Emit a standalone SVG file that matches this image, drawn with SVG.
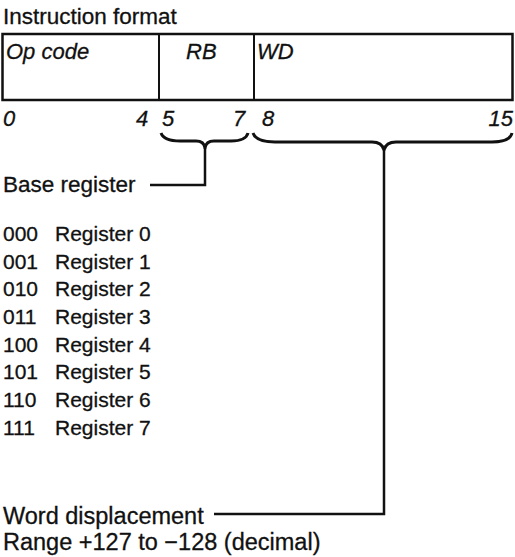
<svg xmlns="http://www.w3.org/2000/svg" width="515" height="557" viewBox="0 0 515 557">
<style>
text{font-family:"Liberation Sans",Arial,Helvetica,sans-serif;font-size:22px;fill:#111;stroke:#111;stroke-width:0.3}
.it{font-style:italic}
.rg{font-size:21px}
.big{font-size:23.5px}
.ln{fill:none;stroke:#111;stroke-width:2.5}
.br{fill:none;stroke:#111;stroke-width:3;stroke-linejoin:round}
</style>
<rect width="515" height="557" fill="#fff"/>
<text x="3" y="24" style="font-size:22.5px">Instruction format</text>
<g id="format">
<rect x="2.5" y="34" width="510" height="66" fill="none" stroke="#111" stroke-width="2.5"/>
<line x1="159" y1="34" x2="159" y2="100" stroke="#111" stroke-width="2"/>
<line x1="254" y1="34" x2="254" y2="100" stroke="#111" stroke-width="2"/>
<text class="it" x="6" y="59">Op code</text>
<text class="it" x="186" y="59">RB</text>
<text class="it" x="257" y="59">WD</text>
</g>
<g id="bits">
<text class="it" x="3" y="126">0</text>
<text class="it" x="136" y="126">4</text>
<text class="it" x="162" y="126">5</text>
<text class="it" x="233" y="126">7</text>
<text class="it" x="262" y="126">8</text>
<text class="it" x="513" y="126" text-anchor="end">15</text>
</g>
<g id="connectors">
<path class="br" d="M161,133 Q164,141 180,141 L196,141 Q204,141 205,148 Q206,141 214,141 L231,141 Q246,141 248,133"/>
<path class="ln" d="M205,148 V185 H150"/>
<path class="br" d="M253,133 Q256,142 275,142 L372,142 Q382,142 384,150 Q386,142 396,142 L492,142 Q510,142 512,133"/>
<path class="ln" d="M384,150 V514 H214"/>
</g>
<g id="base-register">
<text x="3" y="192" style="font-size:22.5px">Base register</text>
<g class="rg-rows">
<text class="rg" x="3" y="241">000</text><text class="rg" x="55" y="241">Register 0</text>
<text class="rg" x="3" y="268.6">001</text><text class="rg" x="55" y="268.6">Register 1</text>
<text class="rg" x="3" y="296.3">010</text><text class="rg" x="55" y="296.3">Register 2</text>
<text class="rg" x="3" y="324">011</text><text class="rg" x="55" y="324">Register 3</text>
<text class="rg" x="3" y="351.6">100</text><text class="rg" x="55" y="351.6">Register 4</text>
<text class="rg" x="3" y="379.3">101</text><text class="rg" x="55" y="379.3">Register 5</text>
<text class="rg" x="3" y="407">110</text><text class="rg" x="55" y="407">Register 6</text>
<text class="rg" x="3" y="434.6">111</text><text class="rg" x="55" y="434.6">Register 7</text>
</g>
</g>
<g id="word-displacement">
<text class="big" x="3" y="524">Word displacement</text>
<text class="big" x="3" y="550">Range +127 to −128 (decimal)</text>
</g>
</svg>
